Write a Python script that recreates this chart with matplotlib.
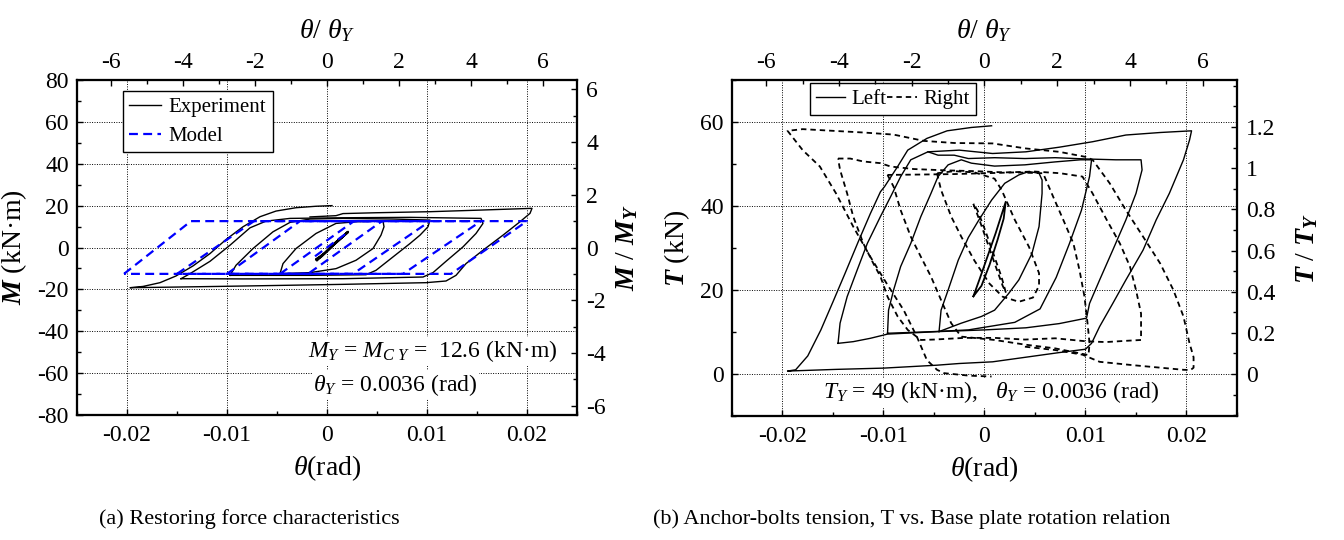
import matplotlib
matplotlib.use('Agg')
import matplotlib.pyplot as plt
from matplotlib.ticker import FixedLocator, MultipleLocator, FuncFormatter

# ---------------- (a) restoring force: theta (rad) vs M (kN*m) ----------------
EXP_SMALL_THETA = [-0.0010, -0.0004, 0.0006, 0.0015, 0.0021, 0.0018, 0.0008, -0.0002, -0.0011, -0.0006, 0.0004, 0.0013, 0.0020]
EXP_SMALL_M = [-6.1, -3.6, 1.0, 4.8, 7.5, 6.2, 2.2, -2.6, -5.7, -4.4, 0.2, 4.0, 6.9]

EXP_005_THETA = [-0.0047, -0.0044, -0.0031, -0.0011, 0.0009, 0.0029, 0.0056, 0.0057, 0.0054, 0.0046, 0.0029, 0.0009, -0.0017, -0.0047]
EXP_005_M = [-12.5, -7.7, -0.5, 6.7, 11.5, 12.3, 12.6, 9.9, 5.9, -0.5, -6.1, -10.1, -12.0, -12.5]

EXP_010_THETA = [-0.0097, -0.0091, -0.0074, -0.0054, -0.0037, -0.0017, 0.0016, 0.0066, 0.0103, 0.0101, 0.0093, 0.0083, 0.0066, 0.0049, 0.0039, -0.0017, -0.0097]
EXP_010_M = [-13.3, -8.5, -0.5, 7.5, 12.0, 13.6, 13.9, 13.6, 13.1, 9.9, 5.9, 1.9, -4.5, -10.9, -13.0, -13.3, -13.3]

EXP_015_THETA = [-0.0146, -0.0137, -0.0117, -0.0097, -0.0077, -0.0061, -0.0037, 0.0016, 0.0083, 0.0154, 0.0156, 0.0149, 0.0136, 0.0119, 0.0106, 0.0096, 0.0016, -0.0084, -0.0146]
EXP_015_M = [-14.9, -12.5, -6.6, 1.1, 9.4, 12.6, 13.9, 14.2, 14.4, 13.9, 11.5, 6.7, 0.3, -6.6, -12.0, -14.1, -14.9, -15.0, -14.9]

EXP_020_THETA = [-0.0017, 0.0009, 0.0016, 0.0049, 0.0103, 0.0149, 0.0205, 0.0203, 0.0193, 0.0176, 0.0156, 0.0139,
                 0.0129, 0.0119, 0.0099, 0.0016, -0.0084, -0.0151, -0.0197, -0.0184, -0.0167, -0.0151, -0.0134,
                 -0.0117, -0.0101, -0.0084, -0.0067, -0.0051, -0.0031, -0.0011, 0.0005]
EXP_020_M = [14.6, 15.2, 16.2, 16.6, 17.1, 17.8, 18.7, 16.3, 12.3, 5.9, -1.3, -7.7,
             -13.3, -16.0, -16.8, -17.6, -18.4, -18.9, -19.2, -18.6, -16.8, -13.6, -8.8,
             -2.9, 3.8, 9.9, 14.7, 17.4, 19.0, 19.7, 20.0]

MODEL_M = [-12.6, 12.6, 12.6, -12.6, -12.6]
MODEL_005_THETA = [-0.0047, 0.0027, 0.0055, -0.0019, -0.0047]
MODEL_010_THETA = [-0.0100, -0.0027, 0.0103, 0.0026, -0.0100]
MODEL_015_THETA = [-0.0150, -0.0073, 0.0154, 0.0076, -0.0150]
MODEL_020_THETA = [-0.0203, -0.0136, 0.0200, 0.0124, -0.0203]
MODEL_INIT_THETA = [-0.0012, 0.0022]
MODEL_INIT_M = [-4.2, 7.7]

# ---------------- (b) anchor-bolt tension: theta (rad) vs T (kN) ----------------
LEFT_X_THETA = [-0.0011, -0.0005, 0.0003, 0.0011, 0.0017, 0.0021, 0.0019, 0.0013, 0.0005, -0.0003, -0.0011]
LEFT_X_T = [18.5, 22.5, 28.0, 33.5, 38.0, 41.0, 37.0, 32.0, 26.0, 21.0, 18.5]

LEFT_05_THETA = [-0.0045, -0.0043, -0.0036, -0.0026, -0.0016, -0.0006, 0.0007, 0.0020, 0.0034, 0.0044, 0.0054,
                 0.0057, 0.0057, 0.0054, 0.0047, 0.0034, 0.0024, 0.0010, -0.0003, -0.0023, -0.0045]
LEFT_05_T = [10.1, 15.2, 20.0, 27.1, 32.5, 36.5, 41.4, 45.4, 47.4, 48.2, 47.8,
             46.2, 43.0, 35.1, 28.7, 22.4, 19.2, 15.2, 13.7, 12.1, 10.1]

LEFT_10_THETA = [-0.0096, -0.0095, -0.0090, -0.0083, -0.0073, -0.0063, -0.0053, -0.0046, -0.0036, -0.0023, -0.0013,
                 0.0010, 0.0040, 0.0070, 0.0095, 0.0106, 0.0104, 0.0096, 0.0084, 0.0071, 0.0055, 0.0030, -0.0016,
                 -0.0050, -0.0096]
LEFT_10_T = [9.7, 15.2, 20.0, 25.6, 31.1, 37.5, 43.0, 47.0, 49.8, 51.0, 50.2,
             49.5, 49.8, 50.5, 51.0, 51.0, 47.0, 39.0, 31.0, 23.0, 15.5, 12.3, 10.5,
             10.1, 9.7]

LEFT_15_THETA = [-0.0145, -0.0143, -0.0136, -0.0126, -0.0116, -0.0103, -0.0093, -0.0083, -0.0073, -0.0056, -0.0046,
                 -0.0030, -0.0016, 0.0010, 0.0040, 0.0070, 0.0100, 0.0130, 0.0155, 0.0156, 0.0150, 0.0140,
                 0.0127, 0.0114, 0.0104, 0.0101, 0.0074, 0.0041, 0.0000, -0.0045, -0.0096, -0.0113, -0.0130, -0.0145]
LEFT_15_T = [7.3, 12.1, 18.4, 24.8, 31.1, 37.5, 42.2, 47.0, 51.0, 52.9, 52.1,
             52.1, 51.3, 51.5, 51.3, 51.5, 51.2, 51.0, 51.0, 48.6, 43.0, 36.7,
             29.5, 22.4, 16.8, 13.3, 12.0, 11.0, 10.5, 10.1, 9.5, 8.5, 7.7, 7.3]

LEFT_20_THETA = [-0.0056, -0.0025, 0.0008, 0.0041, 0.0074, 0.0107, 0.0140, 0.0174, 0.0205, 0.0203, 0.0197,
                 0.0183, 0.0170, 0.0157, 0.0140, 0.0127, 0.0114, 0.0106, 0.0100, 0.0074, 0.0041, 0.0008,
                 -0.0025, -0.0047, -0.0100, -0.0147, -0.0195, -0.0187, -0.0175, -0.0162, -0.0150, -0.0138,
                 -0.0125, -0.0113, -0.0103, -0.0099, -0.0086, -0.0076, -0.0057, -0.0037, -0.0013, 0.0007]
LEFT_20_T = [52.9, 53.3, 52.5, 52.9, 54.0, 55.3, 56.9, 57.5, 57.9, 55.7, 51.0,
             43.0, 36.7, 29.5, 22.4, 16.8, 11.3, 7.3, 5.9, 5.1, 4.0, 2.9,
             2.5, 2.1, 1.4, 1.1, 0.7, 1.0, 4.3, 10.5, 17.2, 24.0,
             31.5, 38.2, 43.4, 44.6, 49.4, 53.3, 56.1, 57.9, 58.7, 59.1]

RIGHT_X_THETA = [-0.0011, -0.0004, 0.0004, 0.0012, 0.0018, 0.0021, 0.0017, 0.0009, 0.0001, -0.0007, -0.0011]
RIGHT_X_T = [40.5, 36.0, 30.5, 25.0, 21.0, 19.5, 23.0, 28.5, 34.0, 39.0, 40.5]

RIGHT_05_THETA = [-0.0047, -0.0043, -0.0033, -0.0023, -0.0010, 0.0005, 0.0018, 0.0034, 0.0048, 0.0054, 0.0054,
                  0.0044, 0.0030, 0.0017, 0.0010, -0.0010, -0.0030, -0.0047]
RIGHT_05_T = [47.8, 43.8, 37.5, 32.7, 27.0, 21.5, 18.4, 17.2, 18.2, 21.0, 24.0,
              30.3, 36.7, 43.8, 46.5, 48.0, 48.3, 47.8]

RIGHT_10_THETA = [-0.0096, -0.0090, -0.0083, -0.0073, -0.0063, -0.0053, -0.0043, -0.0033, -0.0023, 0.0010, 0.0040,
                  0.0070, 0.0103, 0.0104, 0.0102, 0.0099, 0.0094, 0.0088, 0.0078, 0.0068, 0.0058, 0.0030,
                  0.0000, -0.0030, -0.0060, -0.0096]
RIGHT_10_T = [47.4, 44.6, 39.0, 32.7, 27.9, 23.2, 17.6, 12.1, 8.9, 8.1, 7.0,
              6.1, 4.5, 7.3, 12.1, 18.4, 24.8, 31.1, 36.7, 42.2, 47.8, 48.0,
              47.8, 47.6, 47.5, 47.4]

RIGHT_15_THETA = [-0.0145, -0.0133, -0.0120, -0.0103, -0.0093, -0.0070, -0.0040, -0.0010, 0.0020, 0.0050, 0.0075,
                  0.0097, 0.0107, 0.0121, 0.0134, 0.0144, 0.0150, 0.0155, 0.0155, 0.0140, 0.0120, 0.0100,
                  0.0070, 0.0040, 0.0010, -0.0020, -0.0050, -0.0063, -0.0076, -0.0086, -0.0096, -0.0103,
                  -0.0110, -0.0120, -0.0130, -0.0136, -0.0143, -0.0145]
RIGHT_15_T = [51.3, 51.3, 50.6, 50.2, 49.4, 48.8, 48.5, 48.3, 48.0, 48.2, 47.8,
              47.0, 43.0, 36.7, 31.1, 25.6, 20.0, 14.4, 8.1, 7.9, 7.6, 7.8,
              8.5, 8.2, 8.6, 8.6, 8.2, 8.1, 10.5, 13.7, 18.4, 23.2,
              26.3, 31.1, 37.5, 43.0, 48.6, 51.3]

RIGHT_20_THETA = [0.0040, 0.0070, 0.0097, 0.0114, 0.0147, 0.0197, 0.0204, 0.0207, 0.0207, 0.0204, 0.0203,
                  0.0197, 0.0187, 0.0174, 0.0157, 0.0140, 0.0124, 0.0107, 0.0100, 0.0074, 0.0041, 0.0008,
                  -0.0030, -0.0060, -0.0090, -0.0120, -0.0150, -0.0180, -0.0195, -0.0180, -0.0163, -0.0147,
                  -0.0130, -0.0113, -0.0097, -0.0080, -0.0067, -0.0057, -0.0047, -0.0040, -0.0015, 0.0007]
RIGHT_20_T = [6.5, 5.7, 4.6, 2.9, 2.1, 1.0, 0.95, 1.5, 4.0, 6.5, 7.3,
              13.7, 20.0, 26.3, 32.7, 39.0, 45.4, 51.0, 51.7, 52.9, 53.7, 54.9,
              55.0, 55.5, 57.0, 57.5, 57.9, 58.3, 57.9, 53.3, 49.4, 43.0,
              35.1, 27.9, 21.6, 15.2, 8.9, 3.3, 1.0, 0.2, -0.4, -0.6]

THETA_Y = 0.0036
M_Y = 12.6
T_Y = 49.0

THETA_TICKS = [-0.02, -0.01, 0, 0.01, 0.02]
RATIO_TICKS = [-6, -4, -2, 0, 2, 4, 6]
M_TICKS = [-80, -60, -40, -20, 0, 20, 40, 60, 80]
T_TICKS = [0, 20, 40, 60]
T_RATIO_TICKS = [0, 0.2, 0.4, 0.6, 0.8, 1.0, 1.2]

plt.rcParams['font.family'] = ['Liberation Serif', 'DejaVu Serif']
plt.rcParams['mathtext.fontset'] = 'custom'
plt.rcParams['mathtext.rm'] = 'Liberation Serif'
plt.rcParams['mathtext.it'] = 'Liberation Serif:italic'
plt.rcParams['mathtext.bf'] = 'Liberation Serif:bold:italic'
plt.rcParams['axes.unicode_minus'] = False

fmt = FuncFormatter(lambda v, p: f'{v:g}')
W, H = 1344, 540

fig = plt.figure(figsize=(W / 100, H / 100), dpi=100)
ax1 = fig.add_axes([77 / W, 1 - 415 / H, 500 / W, 335 / H])
ax2 = fig.add_axes([732 / W, 1 - 416 / H, 505 / W, 336 / H])


def setup(ax, ylim, yticks, ratio_ylim, ratio_ticks, ratio_minor):
    ax.set_xlim(-0.025, 0.025)
    ax.set_ylim(*ylim)
    ax.xaxis.set_major_locator(FixedLocator(THETA_TICKS))
    ax.xaxis.set_minor_locator(MultipleLocator(0.005))
    ax.xaxis.set_major_formatter(fmt)
    ax.yaxis.set_major_locator(FixedLocator(yticks))
    ax.yaxis.set_minor_locator(MultipleLocator(10))
    ax.yaxis.set_major_formatter(fmt)
    ax.grid(True, which='major', color='black', linestyle=(0, (1, 1.5)), linewidth=0.7)
    ax.tick_params(which='both', direction='in', top=False, right=False, labelsize=17, width=1.0)
    ax.tick_params(which='major', length=4)
    ax.tick_params(which='minor', length=3)
    ax.tick_params(axis='x', pad=7)
    ax.tick_params(axis='y', pad=6)
    for sp in ax.spines.values():
        sp.set_linewidth(1.5)

    top = ax.twiny()
    top.set_xlim(-0.025 / THETA_Y, 0.025 / THETA_Y)
    top.xaxis.set_major_locator(FixedLocator(RATIO_TICKS))
    top.xaxis.set_minor_locator(MultipleLocator(1))
    top.xaxis.set_major_formatter(fmt)
    top.tick_params(which='both', direction='in', labelsize=17, width=1.0, pad=5)
    top.tick_params(which='major', length=4)
    top.tick_params(which='minor', length=3)
    top.set_xlabel(r'$\theta$/ $\theta_Y$', fontsize=20)
    top.xaxis.set_label_coords(0.5, 1.125)

    right = ax.twinx()
    right.set_ylim(*ratio_ylim)
    right.yaxis.set_major_locator(FixedLocator(ratio_ticks))
    right.yaxis.set_minor_locator(MultipleLocator(ratio_minor))
    right.yaxis.set_major_formatter(fmt)
    right.tick_params(which='both', direction='in', labelsize=17, width=1.0, pad=6.5)
    right.tick_params(which='major', length=4)
    right.tick_params(which='minor', length=3)
    for a in (top, right):
        for sp in a.spines.values():
            sp.set_linewidth(1.5)
    return top, right


# ---------------- panel (a) ----------------
top1, right1 = setup(ax1, (-80, 80), M_TICKS, (-80 / M_Y, 80 / M_Y), RATIO_TICKS, 1)

exp_style = dict(color='black', linewidth=1.0, zorder=3)
ax1.plot(EXP_SMALL_THETA, EXP_SMALL_M, color='black', linewidth=1.6, zorder=3)
ax1.plot(EXP_005_THETA, EXP_005_M, label='Experiment', **exp_style)
ax1.plot(EXP_010_THETA, EXP_010_M, **exp_style)
ax1.plot(EXP_015_THETA, EXP_015_M, **exp_style)
ax1.plot(EXP_020_THETA, EXP_020_M, **exp_style)

mod_style = dict(color='#0000ff', linewidth=1.6, linestyle=(0, (4, 2.4)), zorder=4)
ax1.plot(MODEL_020_THETA, MODEL_M, label='Model', **mod_style)
ax1.plot(MODEL_015_THETA, MODEL_M, **mod_style)
ax1.plot(MODEL_010_THETA, MODEL_M, **mod_style)
ax1.plot(MODEL_005_THETA, MODEL_M, **mod_style)
ax1.plot(MODEL_INIT_THETA, MODEL_INIT_M, **mod_style)

ax1.set_xlabel(r'$\theta$(rad)', fontsize=20)
ax1.xaxis.set_label_coords(0.5, -0.115)
ax1.set_ylabel(r'$\mathbf{M}$ (kN·m)', fontsize=20)
ax1.yaxis.set_label_coords(-0.095, 0.5)
right1.set_ylabel(r'$\mathbf{M}$ / $\mathbf{M_Y}$', fontsize=20)
right1.yaxis.set_label_coords(1.075, 0.5)

leg1 = ax1.legend(loc='upper left', bbox_to_anchor=(0.092, 0.967), fontsize=15, fancybox=False,
                  edgecolor='black', framealpha=1, borderpad=0.3, handlelength=1.5,
                  labelspacing=0.45, borderaxespad=0, handletextpad=0.4)
leg1.get_frame().set_linewidth(1.0)
leg1.set_zorder(6)

box = dict(facecolor='white', edgecolor='none', pad=1)
ax1.text(0.462, 0.19, r'$M_Y$ = $M_{C\ Y}$ =  12.6 (kN·m)', transform=ax1.transAxes,
         fontsize=17, ha='left', va='center', bbox=box, zorder=5)
ax1.text(0.472, 0.09, r'$\theta_Y$ = 0.0036 (rad)', transform=ax1.transAxes,
         fontsize=17, ha='left', va='center', bbox=box, zorder=5)

# ---------------- panel (b) ----------------
top2, right2 = setup(ax2, (-10, 70), T_TICKS, (-10 / T_Y, 70 / T_Y), T_RATIO_TICKS, 0.1)

left_style = dict(color='black', linewidth=1.0, zorder=3)
ax2.plot(LEFT_X_THETA, LEFT_X_T, color='black', linewidth=1.3, zorder=3)
ax2.plot(LEFT_05_THETA, LEFT_05_T, label='Left', **left_style)
ax2.plot(LEFT_10_THETA, LEFT_10_T, **left_style)
ax2.plot(LEFT_15_THETA, LEFT_15_T, **left_style)
ax2.plot(LEFT_20_THETA, LEFT_20_T, **left_style)

right_style = dict(color='black', linewidth=1.3, linestyle=(0, (3, 2.2)), zorder=3)
ax2.plot(RIGHT_X_THETA, RIGHT_X_T, **right_style)
ax2.plot(RIGHT_05_THETA, RIGHT_05_T, label='Right', **right_style)
ax2.plot(RIGHT_10_THETA, RIGHT_10_T, **right_style)
ax2.plot(RIGHT_15_THETA, RIGHT_15_T, **right_style)
ax2.plot(RIGHT_20_THETA, RIGHT_20_T, **right_style)

ax2.set_xlabel(r'$\theta$(rad)', fontsize=20)
ax2.xaxis.set_label_coords(0.5, -0.115)
ax2.set_ylabel(r'$\mathbf{T}$ (kN)', fontsize=20)
ax2.yaxis.set_label_coords(-0.08, 0.5)
right2.set_ylabel(r'$\mathbf{T}$ / $\mathbf{T_Y}$', fontsize=20)
right2.yaxis.set_label_coords(1.113, 0.5)

leg2 = ax2.legend(loc='upper left', bbox_to_anchor=(0.154, 0.991), ncol=2, fontsize=15, fancybox=False,
                  edgecolor='black', framealpha=1, borderpad=0.3, handlelength=1.4,
                  columnspacing=0.05, borderaxespad=0, handletextpad=0.3)
leg2.get_frame().set_linewidth(1.0)
leg2.set_zorder(6)

ax2.text(0.513, 0.071, r'$T_Y$ = 49 (kN·m),   $\theta_Y$ = 0.0036 (rad)', transform=ax2.transAxes,
         fontsize=17, ha='center', va='center', bbox=box, zorder=5)

# ---------------- captions ----------------
fig.text(249 / W, 1 - 519 / H, '(a) Restoring force characteristics',
         ha='center', va='center', fontsize=16)
fig.text(912 / W, 1 - 519 / H, '(b) Anchor-bolts tension, T vs. Base plate rotation relation',
         ha='center', va='center', fontsize=16)

fig.savefig('out.png', dpi=100)
